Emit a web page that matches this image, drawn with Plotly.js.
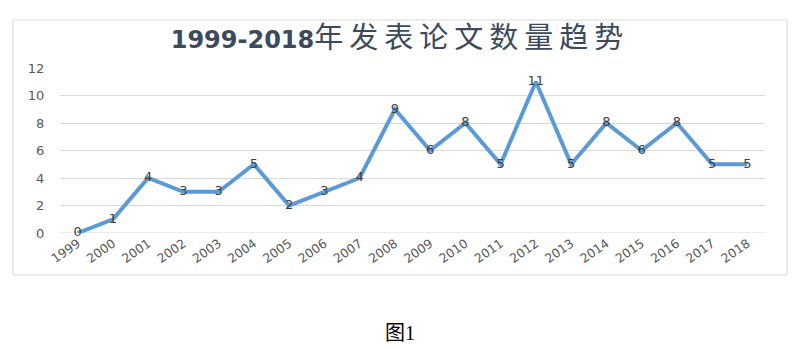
<!DOCTYPE html>
<html><head><meta charset="utf-8">
<script src="https://cdn.plot.ly/plotly-3.0.1.min.js"></script>
<style>html,body{margin:0;padding:0;background:#fff;}#c{width:800px;height:349px;}</style>
</head><body><div id="c"></div>
<script>
const years = ['1999','2000','2001','2002','2003','2004','2005','2006','2007','2008','2009','2010','2011','2012','2013','2014','2015','2016','2017','2018'];
const papers = [0,1,4,3,3,5,2,3,4,9,6,8,5,11,5,8,6,8,5,5];
const yTicks = [0,2,4,6,8,10,12];

const trace = {
  x: years, y: papers, type: 'scatter', mode: 'lines+text',
  text: papers.map(String), textposition: 'middle center',
  textfont: {family: 'DejaVu Sans, sans-serif', size: 13, color: '#404040'},
  line: {color: '#5b9bd5', width: 4}, hoverinfo: 'none', cliponaxis: false
};
const layout = {
  width: 800, height: 349,
  margin: {l: 60, r: 35, t: 68, b: 116},
  paper_bgcolor: '#fff', plot_bgcolor: '#fff',
  showlegend: false,
  title: {text: '<b>1999-2018</b><span style="font-size:29px;letter-spacing:6px">年发表论文数量趋势</span>', x: 0.5, xanchor: 'center', y: 1 - 40/349, yanchor: 'middle',
    font: {family: 'DejaVu Sans, Noto Sans CJK SC, sans-serif', size: 24, color: '#3b4a5c'}},
  xaxis: {type: 'category', range: [-0.5, 19.5], tickangle: -35, showgrid: false, zeroline: false, showline: false,
    ticks: '', tickfont: {family: 'DejaVu Sans, sans-serif', size: 12.5, color: '#595959'}},
  yaxis: {range: [0, 12], tickvals: yTicks, ticktext: yTicks.map(String), showgrid: true, gridcolor: '#d9d9d9', gridwidth: 1,
    zeroline: false, showline: false, ticks: 'outside', ticklen: 12, tickcolor: 'rgba(0,0,0,0)',
    tickfont: {family: 'DejaVu Sans, sans-serif', size: 13, color: '#595959'}},
  shapes: [
    {type: 'line', xref: 'paper', yref: 'y', x0: 0, x1: 1, y0: 0, y1: 0, line: {color: '#d9d9d9', width: 1}, layer: 'below'},
    {type: 'rect', xref: 'paper', yref: 'paper', x0: (13-60)/705, x1: (787-60)/705, y0: (233-275)/165, y1: (233-20)/165,
      line: {color: '#d9d9d9', width: 1}, fillcolor: 'rgba(0,0,0,0)'}
  ],
  annotations: [
    {text: '图1', xref: 'paper', yref: 'paper', x: (400-60)/705, y: (233-333)/165, xanchor: 'center', yanchor: 'middle',
      showarrow: false, font: {family: 'Liberation Serif, Noto Sans CJK SC, serif', size: 20, color: '#000'}}
  ]
};
Plotly.newPlot('c', [trace], layout, {staticPlot: true, displayModeBar: false});
</script></body></html>
